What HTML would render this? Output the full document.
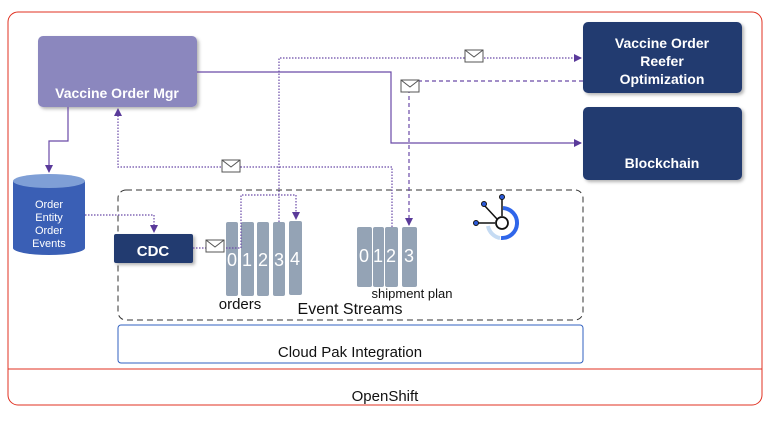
<!DOCTYPE html>
<html><head><style>
body{margin:0;background:#fff;width:777px;height:427px;overflow:hidden;font-family:"Liberation Sans",sans-serif}
</style></head><body>
<svg width="777" height="427" xmlns="http://www.w3.org/2000/svg" font-family="Liberation Sans, sans-serif">
<defs>
<marker id="a" markerWidth="8" markerHeight="8" refX="7" refY="4" orient="auto" markerUnits="userSpaceOnUse"><path d="M0,0 L8,4 L0,8 z" fill="#5a3a9a"/></marker>
<filter id="s" x="-10%" y="-10%" width="130%" height="130%"><feDropShadow dx="2" dy="2" stdDeviation="1.5" flood-opacity="0.3"/></filter>
<g id="env"><rect x="-9" y="-6" width="18" height="12" fill="#fff" stroke="#555" stroke-width="1"/><path d="M-9,-6 L0,1 L9,-6" fill="none" stroke="#555"/></g>
</defs>
<rect x="8" y="12" width="754" height="393" rx="10" fill="none" stroke="#e03020" stroke-width="1"/>
<line x1="8" y1="369" x2="762" y2="369" stroke="#e03020"/>
<text x="385" y="401" font-size="15" text-anchor="middle" fill="#111">OpenShift</text>
<rect x="118" y="325" width="465" height="38" rx="3" fill="none" stroke="#3060c0"/>
<text x="350" y="357" font-size="15" text-anchor="middle" fill="#111">Cloud Pak Integration</text>
<rect x="118" y="190" width="465" height="130" rx="8" fill="none" stroke="#333" stroke-dasharray="6,4"/>
<rect x="38" y="36" width="159" height="71" rx="5" fill="#8b87be" filter="url(#s)"/>
<text x="117" y="98" font-size="14" font-weight="bold" text-anchor="middle" fill="#fff">Vaccine Order Mgr</text>
<rect x="583" y="22" width="159" height="71" rx="5" fill="#233a70" filter="url(#s)"/>
<text x="662" y="48" font-size="14" font-weight="bold" text-anchor="middle" fill="#fff">Vaccine Order</text>
<text x="662" y="66" font-size="14" font-weight="bold" text-anchor="middle" fill="#fff">Reefer</text>
<text x="662" y="84" font-size="14" font-weight="bold" text-anchor="middle" fill="#fff">Optimization</text>
<rect x="583" y="107" width="159" height="73" rx="5" fill="#233a70" filter="url(#s)"/>
<text x="662" y="168" font-size="14" font-weight="bold" text-anchor="middle" fill="#fff">Blockchain</text>
<rect x="114" y="234" width="79" height="29" rx="2" fill="#233a70" filter="url(#s)"/>
<text x="153" y="256" font-size="15" font-weight="bold" text-anchor="middle" fill="#fff">CDC</text>
<path d="M13,181 L13,248 A36,7 0 0 0 85,248 L85,181 Z" fill="#3a5fb5"/>
<ellipse cx="49" cy="181" rx="36" ry="7" fill="#7f9fd6"/>
<g font-size="11" fill="#fff" text-anchor="middle"><text x="49" y="208">Order</text><text x="49" y="221">Entity</text><text x="49" y="234">Order</text><text x="49" y="247">Events</text></g>
<g fill="#94a3b5">
<rect x="226" y="222" width="12" height="74" rx="2"/><rect x="241" y="222" width="13" height="74" rx="2"/><rect x="257" y="222" width="12" height="74" rx="2"/><rect x="273" y="222" width="12" height="74" rx="2"/><rect x="289" y="221" width="13" height="74" rx="2"/>
<rect x="357" y="227" width="15" height="60" rx="2"/><rect x="373" y="227" width="11" height="60" rx="2"/><rect x="385" y="227" width="13" height="60" rx="2"/><rect x="402" y="227" width="15" height="60" rx="2"/>
</g>
<g font-size="18" fill="#fff" text-anchor="middle">
<text x="232" y="266">0</text><text x="247" y="266">1</text><text x="263" y="266">2</text><text x="279" y="266">3</text><text x="295" y="265">4</text>
<text x="364" y="262">0</text><text x="378" y="262">1</text><text x="391" y="262">2</text><text x="409" y="262">3</text>
</g>
<text x="240" y="309" font-size="15" fill="#111" text-anchor="middle">orders</text>
<text x="412" y="298" font-size="13" fill="#111" text-anchor="middle">shipment plan</text>
<text x="350" y="314" font-size="16" fill="#111" text-anchor="middle">Event Streams</text>
<path d="M488,226 A15,15 0 0 0 500,238" fill="none" stroke="#c5dbf3" stroke-width="4"/>
<path d="M503,208 A15,15 0 0 1 501,238" fill="none" stroke="#2f66ea" stroke-width="4"/>
<line x1="476" y1="223" x2="495" y2="223" stroke="#111" stroke-width="1.5"/>
<line x1="484" y1="205" x2="497" y2="219" stroke="#111" stroke-width="1.5"/>
<line x1="502" y1="197" x2="502" y2="216" stroke="#111" stroke-width="1.5"/>
<circle cx="502" cy="223" r="6" fill="#fff" stroke="#111" stroke-width="1.8"/>
<circle cx="476" cy="223" r="2.5" fill="#2a5ad8" stroke="#111"/><circle cx="484" cy="204" r="2.5" fill="#2a5ad8" stroke="#111"/><circle cx="502" cy="197" r="2.5" fill="#2a5ad8" stroke="#111"/>
<g fill="none" stroke="#6a4aa8" stroke-width="1.2">
<path d="M197,72 L391,72 L391,143 L581,143" marker-end="url(#a)"/>
<path d="M68,107 L68,141 L49,141 L49,172" marker-end="url(#a)"/>
<path d="M279,222 L279,58 L581,58" stroke-dasharray="1.5,1.5" marker-end="url(#a)"/>
<path d="M583,81 L409,81 L409,225" stroke-dasharray="4,3" marker-end="url(#a)"/>
<path d="M392,227 L392,167 L118,167 L118,109" stroke-dasharray="1.5,1.5" marker-end="url(#a)"/>
<path d="M85,215 L154,215 L154,232" stroke-dasharray="1.5,1.5" marker-end="url(#a)"/>
<path d="M193,248 L241,248 L241,195 L296,195 L296,219" stroke-dasharray="1.5,1.5" marker-end="url(#a)"/>
</g>
<use href="#env" x="474" y="56"/>
<use href="#env" x="410" y="86"/>
<use href="#env" x="231" y="166"/>
<use href="#env" x="215" y="246"/>
</svg>
</body></html>
